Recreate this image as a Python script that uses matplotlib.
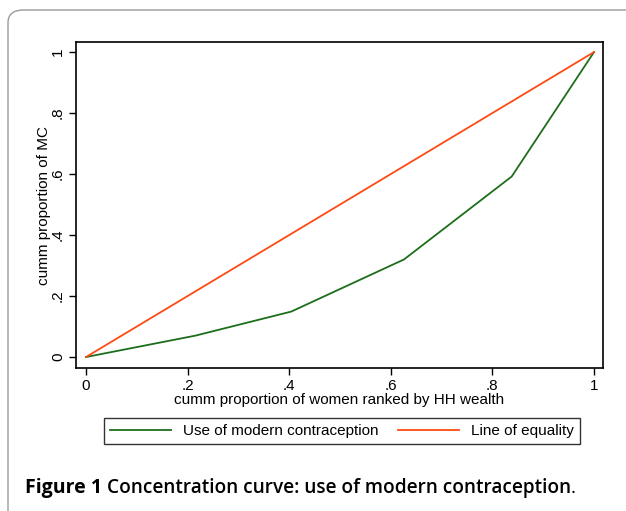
import matplotlib.pyplot as plt
from matplotlib.patches import FancyBboxPatch

# cumulative proportions
women_cum = [0, 0.215, 0.404, 0.626, 0.838, 1.0]
mc_cum = [0, 0.070, 0.149, 0.320, 0.592, 1.0]
equality = [0, 1.0]

tick_vals = [0, 0.2, 0.4, 0.6, 0.8, 1.0]
tick_labels = ['0', '.2', '.4', '.6', '.8', '1']

plt.rcParams['font.family'] = ['Liberation Sans', 'DejaVu Sans']

fig = plt.figure(figsize=(6.26, 5.11), dpi=100)

# outer rounded panel of the figure box (runs off the right edge)
panel = FancyBboxPatch((8 / 626, -0.05), 1.2, 1 - 10 / 511 + 0.05,
                       boxstyle='round,pad=0,rounding_size=0.025',
                       transform=fig.transFigure, fill=False,
                       edgecolor='#9a9a9a', linewidth=1.0)
fig.patches.append(panel)

ax = fig.add_axes([76 / 626, 1 - 368 / 511, (603 - 76) / 626, (368 - 42) / 511])
ax.plot(women_cum, mc_cum, color='#1c6e1c', linewidth=1.3,
        label='Use of modern contraception')
ax.plot(equality, equality, color='#ff4a14', linewidth=1.3,
        label='Line of equality')

ax.set_xlim(-0.0197, 1.0177)
ax.set_ylim(-0.036, 1.033)
ax.set_xticks(tick_vals)
ax.set_xticklabels(tick_labels)
ax.set_yticks(tick_vals)
ax.set_yticklabels(tick_labels, rotation=90, va='center')
ax.tick_params(direction='out', length=5, width=1, labelsize=11, pad=3)
for s in ax.spines.values():
    s.set_linewidth(1.2)

ax.set_xlabel('cumm proportion of women ranked by HH wealth', fontsize=11, labelpad=0)
ax.set_ylabel('cumm proportion of MC', fontsize=11, labelpad=0)

leg = fig.legend(loc='lower left', ncol=2, mode='expand',
                 bbox_to_anchor=(104 / 626, 1 - 444 / 511, 476 / 626, 29 / 511),
                 fancybox=False, edgecolor='#333333', fontsize=11,
                 handlelength=4, borderaxespad=0, framealpha=1)
leg.get_frame().set_linewidth(1.0)

fig.text(25 / 626, 1 - 488 / 511, 'Figure 1', fontsize=14, fontweight='bold',
         family='Open Sans', va='center')
cap = fig.text(107 / 626, 1 - 488 / 511, 'Concentration curve: use of modern contraception',
               fontsize=13.7, fontweight='semibold', family='Open Sans', va='center')
ax.annotate('.', xy=(1, 0.5), xycoords=cap, va='center', fontsize=13.7,
            family='Open Sans', annotation_clip=False)

fig.savefig('out.png', dpi=100)
